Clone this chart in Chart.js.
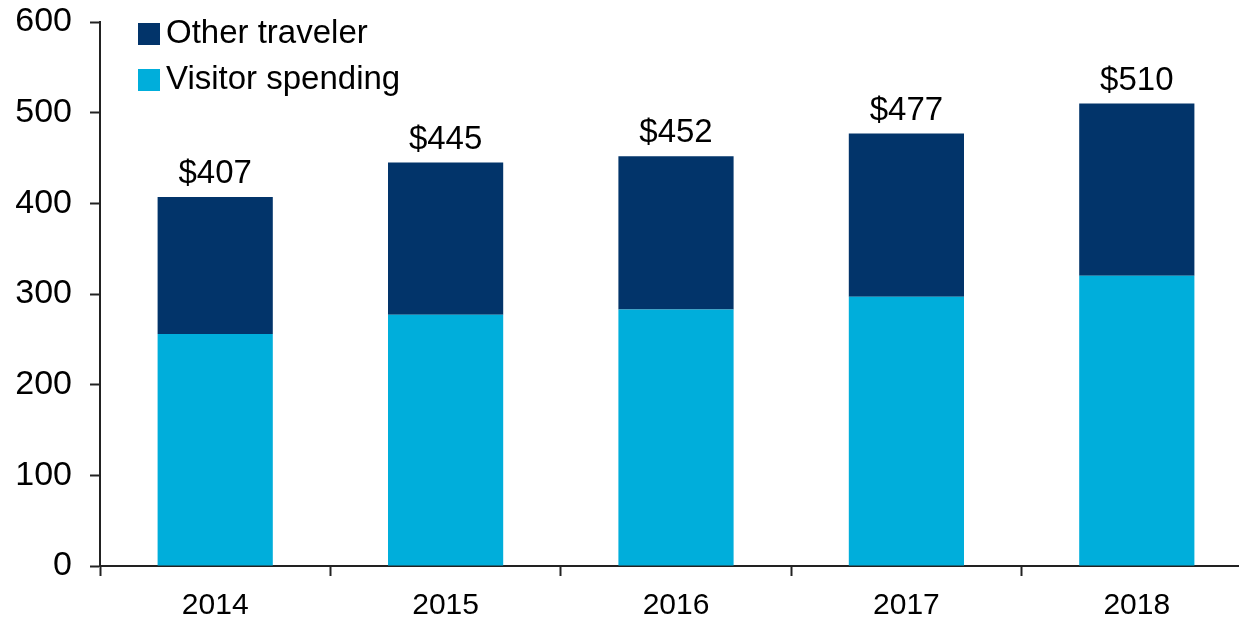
<!DOCTYPE html>
<html>
<head>
<meta charset="utf-8">
<script src="https://cdn.jsdelivr.net/npm/chart.js@4.4.1/dist/chart.umd.min.js"></script>
<style>
  html, body { margin: 0; padding: 0; background: #fff; overflow: hidden; }
  #wrap { width: 1255px; height: 618px; }
</style>
</head>
<body>
<div id="wrap"><canvas id="spending"></canvas></div>
<script>
const years = ["2014", "2015", "2016", "2017", "2018"];
const visitorSpending = [256, 277, 283, 297, 320];
const otherTraveler = [151, 168, 169, 180, 190];
const totals = [407, 445, 452, 477, 510];

const FONT = "Arial, 'Liberation Sans', sans-serif";
const DARK = "#02346A";
const LIGHT = "#00AEDB";

// totals drawn above each stacked bar
const totalLabels = {
  id: "totalLabels",
  afterDatasetsDraw(chart) {
    const { ctx } = chart;
    const meta = chart.getDatasetMeta(1);
    ctx.save();
    ctx.font = "33px " + FONT;
    ctx.fillStyle = "#000";
    ctx.textAlign = "center";
    ctx.textBaseline = "alphabetic";
    meta.data.forEach((bar, i) => {
      ctx.fillText("$" + totals[i], bar.x, bar.y - 14);
    });
    ctx.restore();
  }
};

// legend stacked top-left inside the plot, top series first
const cornerLegend = {
  id: "cornerLegend",
  afterDraw(chart) {
    const { ctx } = chart;
    const items = [chart.data.datasets[1], chart.data.datasets[0]];
    ctx.save();
    ctx.font = "33px " + FONT;
    ctx.textBaseline = "middle";
    ctx.textAlign = "left";
    items.forEach((ds, i) => {
      const y = 34 + i * 46;
      ctx.fillStyle = ds.backgroundColor;
      ctx.fillRect(138, y - 11, 22, 22);
      ctx.fillStyle = "#000";
      ctx.fillText(ds.label, 166, y);
    });
    ctx.restore();
  }
};

new Chart(document.getElementById("spending"), {
  type: "bar",
  data: {
    labels: years,
    datasets: [
      {
        label: "Visitor spending",
        data: visitorSpending,
        backgroundColor: LIGHT,
        barPercentage: 0.5,
        categoryPercentage: 1
      },
      {
        label: "Other traveler",
        data: otherTraveler,
        backgroundColor: DARK,
        barPercentage: 0.5,
        categoryPercentage: 1
      }
    ]
  },
  options: {
    responsive: true,
    maintainAspectRatio: false,
    animation: false,
    layout: { padding: { top: 22, right: 3, left: 0, bottom: 0 } },
    plugins: {
      legend: { display: false },
      tooltip: { enabled: false }
    },
    scales: {
      x: {
        stacked: true,
        grid: {
          offset: true,
          drawOnChartArea: false,
          drawTicks: true,
          tickLength: 10,
          tickWidth: 2,
          color: "#222"
        },
        border: { display: true, color: "#222", width: 2 },
        ticks: {
          color: "#000",
          font: { family: FONT, size: 30 },
          padding: 12
        },
        afterFit(scale) {
          scale.height = 52;
          scale.paddingLeft = 0;
          scale.paddingRight = 0;
        }
      },
      y: {
        stacked: true,
        min: 0,
        max: 600,
        grid: {
          drawOnChartArea: false,
          drawTicks: true,
          tickLength: 10,
          tickWidth: 2,
          color: "#222"
        },
        border: { display: true, color: "#222", width: 2 },
        ticks: {
          stepSize: 100,
          color: "#000",
          font: { family: FONT, size: 34 },
          padding: 18
        },
        afterFit(scale) {
          scale.width = 100;
          scale.paddingTop = 0;
          scale.paddingBottom = 0;
        }
      }
    }
  },
  plugins: [totalLabels, cornerLegend]
});
</script>
</body>
</html>
